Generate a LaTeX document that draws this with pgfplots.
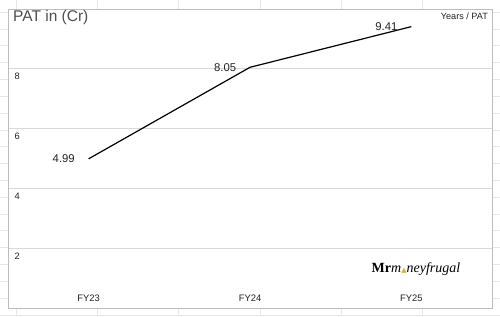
\documentclass[border=0pt]{standalone}
\usepackage{pgfplots}
\pgfplotsset{compat=1.18}
\usepackage{fontspec}
\setmainfont{Liberation Sans}
\newfontfamily\seriffont{Liberation Serif}
\newfontfamily\dejavu{DejaVu Sans}
\definecolor{gridc}{HTML}{D9D9D9}
\definecolor{framec}{HTML}{BDBDBD}
\definecolor{sheetc}{HTML}{E6E6E6}
\definecolor{textc}{HTML}{222222}
\definecolor{goldc}{HTML}{D9B23A}
\begin{document}
\begin{tikzpicture}[x=1pt,y=1pt]
\useasboundingbox (0,0) rectangle (500,316);
\fill[white] (0,0) rectangle (500,316);
% spreadsheet background grid
\foreach \k in {0,...,18} {
  \draw[sheetc, line width=0.6pt] (0,{316-12-16.83*\k}) -- (500,{316-12-16.83*\k});
}
\foreach \xx in {16,97,178,260,341,422} {
  \draw[sheetc, line width=0.6pt] (\xx,0) -- (\xx,316);
}
\fill[white] (8,8) rectangle (492,307);
\begin{axis}[
  at={(8pt,8pt)}, anchor=south west,
  scale only axis, width=484pt, height=299pt,
  xmin=-0.5, xmax=2.5, ymin=0, ymax=10,
  axis line style={framec, line width=0.8pt},
  xtick={0,1,2}, xticklabels={FY23,FY24,FY25},
  ytick={2,4,6,8},
  major tick length=0pt,
  ymajorgrids, grid style={gridc, line width=0.7pt},
  xticklabel style={anchor=south, yshift=3pt, font=\fontsize{9.4}{10}\selectfont, text=textc},
  yticklabel style={anchor=north west, xshift=3pt, yshift=-1pt, font=\fontsize{9.3}{10}\selectfont, text=textc},
  /pgf/number format/assume math mode=true,
  clip=false,
  nodes near coords={\pgfmathprintnumber[fixed,fixed zerofill,precision=2]{\pgfplotspointmeta}},
  point meta=y,
  nodes near coords style={anchor=east, xshift=-10pt, font=\fontsize{11.3}{12}\selectfont, text=textc},
]
\addplot[black, line width=1.2pt, mark=none] coordinates {(0,4.99) (1,8.05) (2,9.41)};
\end{axis}
\node[anchor=west, inner sep=0, text=textc!80] at (13,299) {\fontsize{15.5}{16}\selectfont PAT in (Cr)};
\node[anchor=east, inner sep=0, text=textc] at (488,300) {\fontsize{9.1}{10}\selectfont Years / PAT};
\node[inner sep=0] at (416,47) {\seriffont\fontsize{14}{15}\selectfont\textbf{Mr}\textit{m}\textcolor{goldc}{\dejavu\fontsize{7}{7}\selectfont ▲}\textit{neyfrugal}};
\end{tikzpicture}
\end{document}
